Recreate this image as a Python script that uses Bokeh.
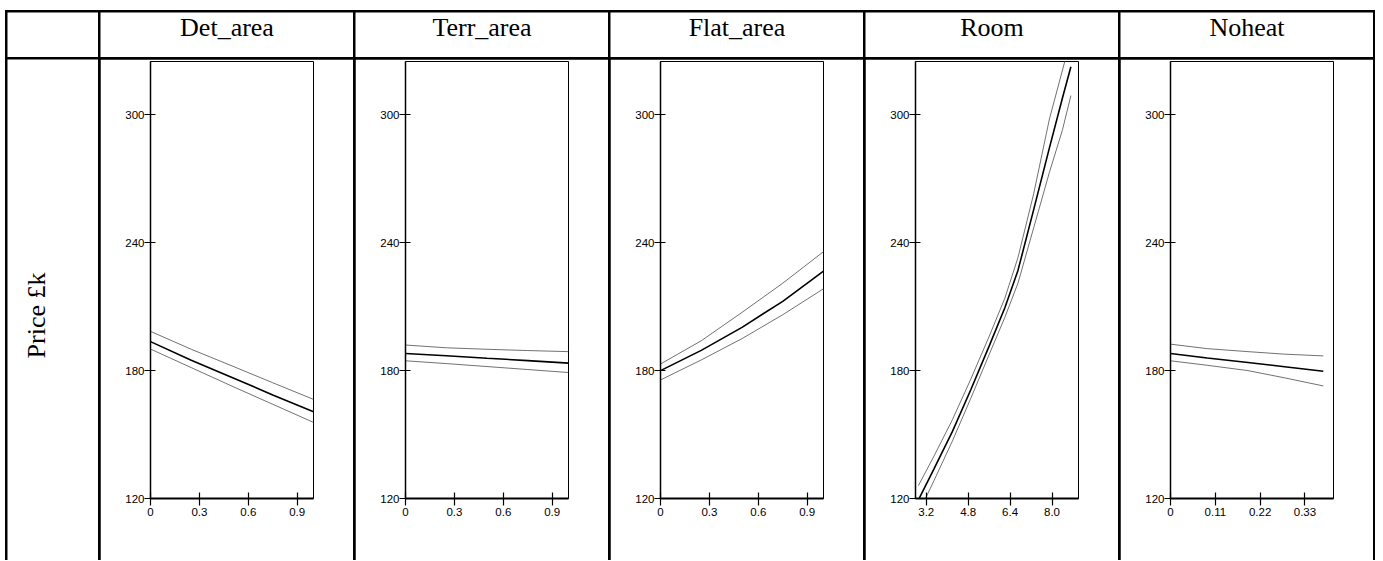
import math
from bokeh.plotting import figure
from bokeh.layouts import row, column
from bokeh.models import Range1d, FixedTicker, Label
from bokeh.embed import file_html
from bokeh.resources import INLINE

# ---------------- data ----------------
panel_titles = ["Det_area", "Terr_area", "Flat_area", "Room", "Noheat"]
y_label = "Price £k"
y_ticks = [120, 180, 240, 300]
y_limits = (120, 325)

det_x = [0, 0.25, 0.5, 0.75, 1.0]
det_fit = [193.6, 184.9, 176.8, 168.6, 160.7]
det_hi = [198.4, 190.0, 182.2, 174.3, 166.5]
det_lo = [190.1, 181.4, 172.7, 164.2, 155.7]
det_ticks = [0, 0.3, 0.6, 0.9]
det_tick_labels = ["0", "0.3", "0.6", "0.9"]
det_limits = (0, 1.0)

terr_x = [0, 0.25, 0.5, 0.75, 1.0]
terr_fit = [188.0, 187.0, 185.8, 184.7, 183.5]
terr_hi = [192.0, 190.7, 190.0, 189.4, 188.9]
terr_lo = [184.6, 183.3, 181.9, 180.5, 179.1]
terr_ticks = [0, 0.3, 0.6, 0.9]
terr_tick_labels = ["0", "0.3", "0.6", "0.9"]
terr_limits = (0, 1.0)

flat_x = [0, 0.25, 0.5, 0.75, 1.0]
flat_fit = [180.0, 189.5, 200.3, 212.5, 226.7]
flat_hi = [183.1, 194.0, 207.3, 221.0, 235.8]
flat_lo = [175.6, 185.0, 195.0, 206.2, 218.4]
flat_ticks = [0, 0.3, 0.6, 0.9]
flat_tick_labels = ["0", "0.3", "0.6", "0.9"]
flat_limits = (0, 1.0)

room_x = [2.9, 3.5, 4.2, 4.9, 5.6, 6.2, 6.7, 7.3, 7.9, 8.4, 8.72]
room_fit = [119.3, 134, 151.5, 171, 191.5, 209.5, 227, 255.5, 284.5, 308, 322.5]
room_hi = [126, 140, 157, 176, 196, 214, 233, 263, 298, 321, 336]
room_lo = [113, 128.5, 147, 167, 187.5, 205, 221, 247, 273, 293, 309]
room_ticks = [3.2, 4.8, 6.4, 8.0]
room_tick_labels = ["3.2", "4.8", "6.4", "8.0"]
room_limits = (2.79, 9.01)

noheat_x = [0, 0.09, 0.19, 0.28, 0.375]
noheat_fit = [188.0, 185.9, 183.8, 181.8, 179.7]
noheat_hi = [192.4, 190.3, 188.9, 187.7, 186.9]
noheat_lo = [184.6, 182.5, 180.0, 176.6, 172.8]
noheat_ticks = [0, 0.11, 0.22, 0.33]
noheat_tick_labels = ["0", "0.11", "0.22", "0.33"]
noheat_limits = (0, 0.40)

panels = [
    (det_x, det_fit, det_hi, det_lo, det_ticks, det_tick_labels, det_limits),
    (terr_x, terr_fit, terr_hi, terr_lo, terr_ticks, terr_tick_labels, terr_limits),
    (flat_x, flat_fit, flat_hi, flat_lo, flat_ticks, flat_tick_labels, flat_limits),
    (room_x, room_fit, room_hi, room_lo, room_ticks, room_tick_labels, room_limits),
    (noheat_x, noheat_fit, noheat_hi, noheat_lo, noheat_ticks, noheat_tick_labels, noheat_limits),
]

# ---------------- layout constants ----------------
CELL_W = 253
FIRST_W = 91
HEAD_H = 45
BODY_H = 501
FRAME_H = 437
SERIF = "Liberation Serif"
SANS = "Liberation Sans"
TICK_FONT = "11.5px"


def blank(w, h):
    f = figure(width=w, height=h, output_backend="svg", toolbar_location=None,
               x_axis_type=None, y_axis_type=None,
               x_range=Range1d(0, 1), y_range=Range1d(0, 1),
               min_border=0)
    f.frame_align = False
    f.outline_line_color = None
    f.background_fill_color = "white"
    f.border_fill_color = "white"
    return f


# header row
head_cells = [blank(FIRST_W, HEAD_H)]
for t in panel_titles:
    h = blank(CELL_W, HEAD_H)
    h.add_layout(Label(x=CELL_W / 2, y=30, x_units="screen", y_units="screen",
                       text=t, text_align="center", text_baseline="alphabetic",
                       text_font=SERIF, text_font_size="26px", text_color="black"))
    head_cells.append(h)

# body row
lab = blank(FIRST_W, BODY_H)
lab.add_layout(Label(x=29, y=BODY_H - 256, x_units="screen", y_units="screen",
                     text=y_label, angle=math.pi / 2, angle_units="rad",
                     text_align="center", text_baseline="alphabetic",
                     text_font=SERIF, text_font_size="26px", text_color="black"))
body_cells = [lab]

for (xs, fit, hi, lo, xt, xtl, xlim) in panels:
    p = figure(width=CELL_W, height=BODY_H, output_backend="svg", toolbar_location=None,
               x_range=Range1d(*xlim), y_range=Range1d(*y_limits),
               min_border_left=50, min_border_right=40, min_border_top=2,
               min_border_bottom=BODY_H - 2 - FRAME_H)
    p.title.visible = False
    p.grid.visible = False
    p.background_fill_color = "white"
    p.border_fill_color = "white"
    p.outline_line_color = "black"
    p.outline_line_width = 1
    p.outline_line_alpha = 1

    p.line(xs, hi, line_color="#4d4d4d", line_width=0.8)
    p.line(xs, lo, line_color="#4d4d4d", line_width=0.8)
    p.line(xs, fit, line_color="black", line_width=1.6)

    ya = p.yaxis[0]
    ya.ticker = FixedTicker(ticks=y_ticks)
    ya.major_label_text_font = SANS
    ya.major_label_text_font_size = TICK_FONT
    ya.major_label_text_color = "black"
    ya.major_tick_out = 6
    ya.major_tick_in = 5
    ya.major_tick_line_width = 1.2
    ya.minor_tick_line_color = None
    ya.axis_line_width = 1.5
    ya.major_label_standoff = 0

    xa = p.xaxis[0]
    xa.ticker = FixedTicker(ticks=xt)
    xa.major_label_overrides = {t: l for t, l in zip(xt, xtl)}
    xa.major_label_text_font = SANS
    xa.major_label_text_font_size = TICK_FONT
    xa.major_label_text_color = "black"
    xa.major_tick_out = 7
    xa.major_tick_in = 6
    xa.major_tick_line_width = 1.2
    xa.minor_tick_line_color = None
    xa.axis_line_width = 1.8
    xa.major_label_standoff = 2
    body_cells.append(p)

layout = column(
    row(*head_cells, spacing=2),
    row(*body_cells, spacing=2),
    spacing=2,
    margin=(10, 0, 0, 5),
    styles={"background-color": "black", "padding": "2px 2px 0px 2px"},
)

open("out.html", "w").write(file_html(layout, INLINE))
